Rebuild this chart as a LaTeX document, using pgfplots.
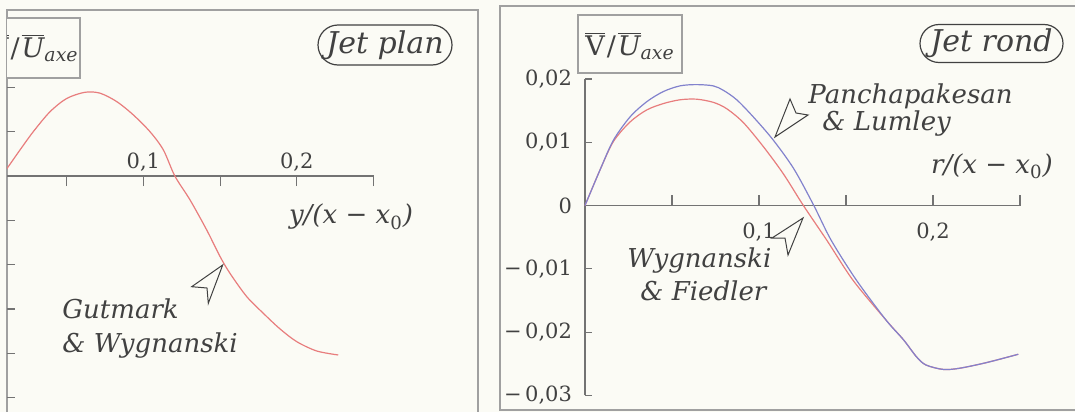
\documentclass[border=0pt]{standalone}
\usepackage{pgfplots}
\pgfplotsset{compat=1.18}
\usepackage{fontspec}
\setmainfont{DejaVu Serif}

\definecolor{paper}{RGB}{251,251,245}
\definecolor{framegray}{RGB}{160,160,160}
\definecolor{axisgray}{RGB}{115,115,115}
\definecolor{ink}{RGB}{65,65,65}
\definecolor{curvered}{RGB}{232,125,125}
\definecolor{curveblue}{RGB}{130,130,205}

\newcommand{\tickfont}{\fontsize{10.5}{12}\selectfont}
\newcommand{\notefont}{\fontsize{13}{16}\selectfont\itshape}
\newcommand{\titlefont}{\fontsize{15}{18}\selectfont\itshape}
\newcommand{\ratio}{\fontsize{13.5}{16}\selectfont
  $\overline{\hbox{V}}$\kern1pt/\kern1pt$\overline{\hbox{\itshape U}}$\textsubscript{\itshape axe}}

\pgfplotsset{
  panel/.style={
    scale only axis,
    axis x line=middle, axis y line=left,
    axis line style={-, draw=axisgray, line width=0.6pt},
    every tick/.style={draw=axisgray, line width=0.6pt},
    tick label style={font=\tickfont, text=ink},
    /pgf/number format/assume math mode=true,
    hide obscured x ticks=false, hide obscured y ticks=false,
    clip=false,
  },
}

\begin{document}
\begin{tikzpicture}[x=0.5pt,y=-0.5pt]
\fill[paper] (0,0) rectangle (1075,412);

% panel frames
\draw[framegray, line width=0.6pt] (7,412) -- (7,10) -- (478,10) -- (478,412);
\draw[framegray, line width=0.6pt] (1075,6) -- (500,6) -- (500,410) -- (1075,410);

% ---------- plane jet ----------
\begin{scope}
\clip (7,10) rectangle (478,412);
\begin{axis}[panel,
  at={(-5pt,-198.75pt)}, anchor=south west,
  width=191.75pt, height=155.05pt,
  xmin=0, xmax=0.25, ymin=-0.05, ymax=0.02,
  xtick={0.1,0.2}, xticklabels={{0,1},{0,2}},
  extra x ticks={0.05,0.15,0.25}, extra x tick labels={},
  xtick align=outside,
  major tick length=5pt,
  ytick=\empty,
  extra y ticks={-0.05,-0.04,-0.03,-0.02,-0.01,0.01,0.02},
  extra y tick labels={},
  extra y tick style={major tick length=12.5pt, ytick align=inside},
  xticklabel style={anchor=south, yshift=4pt},
]
\addplot[curvered, line width=0.6pt, smooth] table {
x y
0.0100 0.0012
0.0119 0.0021
0.0196 0.0059
0.0282 0.0100
0.0391 0.0145
0.0500 0.0175
0.0619 0.0189
0.0717 0.0187
0.0826 0.0168
0.0934 0.0138
0.1043 0.0100
0.1130 0.0059
0.1205 0.0000
0.1304 -0.0054
0.1413 -0.0122
0.1500 -0.0182
0.1565 -0.0220
0.1673 -0.0272
0.1782 -0.0310
0.1890 -0.0345
0.2000 -0.0374
0.2130 -0.0395
0.2270 -0.0404
};
\end{axis}
\draw[framegray, line width=0.6pt, fill=paper] (-24,18) rectangle (80,78);
\node[anchor=east, text=ink, inner sep=0pt] at (79,48) {\ratio};
\end{scope}

\node[draw=ink, line width=0.6pt, rounded corners=10pt, minimum width=67pt,
  minimum height=20pt, inner sep=0pt, text=ink, font=\titlefont] at (385,45) {Jet plan};
\node[text=ink, font=\notefont, inner sep=0pt] at (351,217)
  {y/(x − x\textsubscript{\upshape 0})};
\draw[ink, line width=0.5pt, fill=paper]
  (222.7,265) -- (191.7,286.7) -- (207,288) -- (208.3,303.3) -- cycle;
\node[anchor=base west, text=ink, font=\notefont, inner sep=0pt] at (62,318) {Gutmark};
\node[anchor=base west, text=ink, font=\notefont, inner sep=0pt] at (62,352) {\& Wygnanski};

% ---------- round jet ----------
\begin{axis}[panel,
  at={(292.5pt,-197.7pt)}, anchor=south west,
  width=217.5pt, height=158.25pt,
  xmin=0, xmax=0.25, ymin=-0.03, ymax=0.02,
  xtick={0.1,0.2}, xticklabels={{0,1},{0,2}},
  minor xtick={0.05,0.1,0.15,0.2,0.25},
  ytick={-0.03,-0.02,-0.01,0,0.01,0.02},
  yticklabels={{−\,0,03},{−\,0,02},{−\,0,01},0,{0,01},{0,02}},
  tick align=inside,
  major tick length=3.5pt, minor tick length=5.5pt,
  yticklabel style={xshift=-3pt},
  xticklabel style={yshift=-5pt},
]
% Wygnanski & Fiedler
\addplot[curvered, line width=0.6pt, smooth] table {
x y
0.0000 0.0000
0.0086 0.0056
0.0163 0.0101
0.0259 0.0132
0.0355 0.0151
0.0450 0.0161
0.0546 0.0167
0.0640 0.0168
0.0737 0.0163
0.0814 0.0153
0.0910 0.0131
0.1025 0.0093
0.1140 0.0050
0.1255 0.0000
0.1390 -0.0055
0.1540 -0.0118
0.1730 -0.0181
0.1830 -0.0212
0.1905 -0.0239
0.1960 -0.0252
0.2060 -0.0259
0.2155 -0.0257
0.2310 -0.0248
0.2490 -0.0235
};
% Panchapakesan & Lumley
\addplot[curveblue, line width=0.6pt, smooth] table {
x y
0.0000 0.0000
0.0086 0.0056
0.0163 0.0103
0.0259 0.0140
0.0355 0.0164
0.0450 0.0180
0.0546 0.0189
0.0640 0.0191
0.0737 0.0189
0.0795 0.0182
0.0872 0.0167
0.0967 0.0140
0.1080 0.0104
0.1200 0.0058
0.1315 0.0000
0.1415 -0.0055
0.1560 -0.0118
0.1730 -0.0181
0.1830 -0.0212
0.1905 -0.0239
0.1960 -0.0252
0.2060 -0.0259
0.2155 -0.0257
0.2310 -0.0248
0.2490 -0.0235
};
\end{axis}

\draw[framegray, line width=0.6pt, fill=paper] (578,15) rectangle (682,73);
\node[text=ink, inner sep=0pt] at (630,46) {\ratio};
\node[draw=ink, line width=0.6pt, rounded corners=9.5pt, minimum width=71.5pt,
  minimum height=19pt, inner sep=0pt, text=ink, font=\titlefont] at (991.5,43.5) {Jet rond};
\node[text=ink, font=\notefont, inner sep=0pt] at (992,166)
  {r/(x − x\textsubscript{\upshape 0})};
\draw[ink, line width=0.5pt, fill=paper]
  (775,137) -- (790,99) -- (796,113) -- (808,115) -- cycle;
\node[anchor=base west, text=ink, font=\notefont, inner sep=0pt] at (808,103) {Panchapakesan};
\node[anchor=base west, text=ink, font=\notefont, inner sep=0pt] at (822,130) {\& Lumley};
\draw[ink, line width=0.5pt, fill=paper]
  (803,218) -- (772,238) -- (785,238) -- (788,255) -- cycle;
\node[anchor=base west, text=ink, font=\notefont, inner sep=0pt] at (627,267) {Wygnanski};
\node[anchor=base west, text=ink, font=\notefont, inner sep=0pt] at (640,300) {\& Fiedler};

\pgfresetboundingbox
\useasboundingbox (0,0) rectangle (1075,412);
\end{tikzpicture}
\end{document}
